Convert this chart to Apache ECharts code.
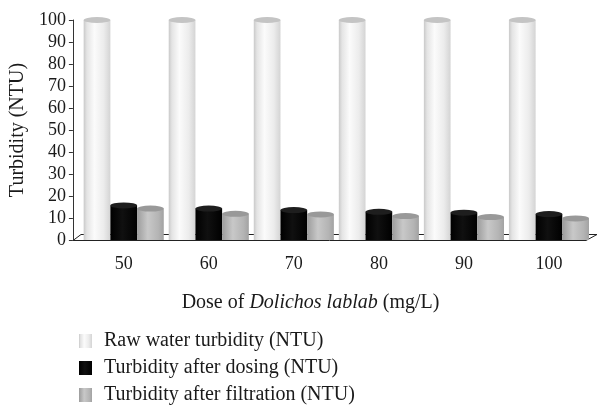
<!DOCTYPE html>
<html>
<head>
<meta charset="utf-8">
<script src="https://cdn.jsdelivr.net/npm/echarts@6/dist/echarts.min.js"></script>
<style>
html,body{margin:0;padding:0;background:#fff;}
#chart{width:598px;height:406px;}
</style>
</head>
<body>
<div id="chart"></div>
<script>
var categories = ['50', '60', '70', '80', '90', '100'];
var rawWater = [100, 100, 100, 100, 100, 100];
var afterDosing = [15.7, 14.3, 13.6, 12.8, 12.4, 11.8];
var afterFiltration = [14.3, 11.9, 11.6, 10.9, 10.4, 9.8];
var yTicks = { min: 0, max: 100, interval: 10 };
var seriesNames = ['Raw water turbidity (NTU)', 'Turbidity after dosing (NTU)', 'Turbidity after filtration (NTU)'];

var FONT = 'Liberation Serif';
var BW = 26.7;

function hGrad(stops) {
  return new echarts.graphic.LinearGradient(0, 0, 1, 0, stops.map(function (s) { return { offset: s[0], color: s[1] }; }));
}
var rawGrad = hGrad([[0, '#c9c9c9'], [0.12, '#e4e4e4'], [0.4, '#fbfbfb'], [0.75, '#ececec'], [1, '#d4d4d4']]);
var blackGrad = hGrad([[0, '#000000'], [0.45, '#101010'], [1, '#000000']]);
var grayGrad = hGrad([[0, '#9c9c9c'], [0.4, '#c8c8c8'], [0.8, '#b4b4b4'], [1, '#a2a2a2']]);

function cap(data, dx, color) {
  return {
    type: 'pictorialBar',
    data: data,
    symbol: 'circle',
    symbolSize: [BW, 6],
    symbolPosition: 'end',
    symbolOffset: [dx, '-50%'],
    itemStyle: { color: color },
    z: 3,
    silent: true
  };
}

var chart = echarts.init(document.getElementById('chart'));
chart.setOption({
  animation: false,
  backgroundColor: '#ffffff',
  grid: { left: 79.3, right: 6.5, top: 20, bottom: 166 },
  xAxis: {
    type: 'category',
    data: categories,
    axisLine: { show: false },
    axisTick: { show: false },
    axisLabel: { margin: 15, fontFamily: FONT, fontSize: 18, color: '#1a1a1a' }
  },
  yAxis: {
    type: 'value',
    min: yTicks.min, max: yTicks.max, interval: yTicks.interval,
    offset: 8.3,
    name: 'Turbidity (NTU)',
    nameLocation: 'middle',
    nameGap: 41,
    nameTextStyle: { fontFamily: FONT, fontSize: 20, color: '#1a1a1a' },
    axisLine: { show: true, lineStyle: { color: '#333', width: 1 } },
    axisTick: { show: true, length: 4, lineStyle: { color: '#333' } },
    splitLine: { show: false },
    axisLabel: { margin: 7, fontFamily: FONT, fontSize: 18, color: '#1a1a1a' }
  },
  legend: {
    data: seriesNames,
    orient: 'vertical',
    left: 79,
    top: 331,
    height: 100,
    padding: 0,
    itemWidth: 13,
    itemHeight: 14,
    itemGap: 7,
    icon: 'rect',
    textStyle: { fontFamily: FONT, fontSize: 20, color: '#1a1a1a', padding: [0, 0, 0, 7] }
  },
  graphic: [
    {
      type: 'polygon',
      shape: { points: [[73, 240.5], [81, 234.5], [597, 234.5], [586, 240.5]] },
      style: { fill: 'none', stroke: '#222', lineWidth: 1 },
      z: 0, silent: true
    },
    {
      type: 'text',
      x: 310.5, y: 303,
      style: {
        text: '{a|Dose of }{b|Dolichos lablab}{a| (mg/L)}',
        align: 'center', verticalAlign: 'middle',
        rich: {
          a: { fontFamily: FONT, fontSize: 20, fill: '#1a1a1a' },
          b: { fontFamily: FONT, fontSize: 20, fontStyle: 'italic', fill: '#1a1a1a' }
        }
      }
    }
  ],
  series: [
    { name: seriesNames[0], type: 'bar', data: rawWater, barWidth: BW, barGap: '0%', itemStyle: { color: rawGrad }, z: 2 },
    { name: seriesNames[1], type: 'bar', data: afterDosing, barWidth: BW, barGap: '0%', itemStyle: { color: blackGrad }, z: 2 },
    { name: seriesNames[2], type: 'bar', data: afterFiltration, barWidth: BW, barGap: '0%', itemStyle: { color: grayGrad }, z: 2 },
    cap(rawWater, -BW, '#c4c4c4'),
    cap(afterDosing, 0, '#1e1e1e'),
    cap(afterFiltration, BW, '#999999')
  ]
});
</script>
</body>
</html>
